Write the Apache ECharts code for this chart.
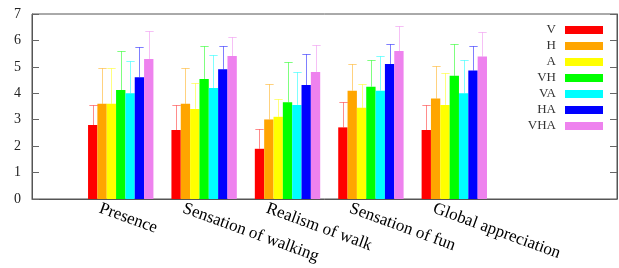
<!DOCTYPE html>
<html>
<head>
<meta charset="utf-8">
<script src="https://cdn.jsdelivr.net/npm/echarts@6/dist/echarts.min.js"></script>
<style>
    html, body { margin: 0; padding: 0; background: #fff; }
    #chart { width: 619px; height: 268px; }
</style>
</head>
<body>
<div id="chart"></div>
<script>
var categories = ["Presence", "Sensation of walking", "Realism of walk", "Sensation of fun", "Global appreciation"];
var seriesNames = ["V", "H", "A", "VH", "VA", "HA", "VHA"];
var yTicks = [0, 1, 2, 3, 4, 5, 6, 7];

// mean scores per condition
var meanV = [2.80, 2.61, 1.90, 2.71, 2.61];
var meanH = [3.60, 3.60, 3.01, 4.10, 3.80];
var meanA = [3.60, 3.41, 3.11, 3.45, 3.56];
var meanVH = [4.12, 4.54, 3.66, 4.25, 4.66];
var meanVA = [4.00, 4.20, 3.56, 4.10, 4.00];
var meanHA = [4.61, 4.91, 4.31, 5.11, 4.86];
var meanVHA = [5.30, 5.41, 4.81, 5.60, 5.39];

// error bar sizes (upper part visible above the bars)
var errV = [0.77, 0.96, 0.74, 0.95, 0.96];
var errH = [1.35, 1.35, 1.33, 1.00, 1.22];
var errA = [1.35, 0.97, 0.69, 0.91, 1.20];
var errVH = [1.49, 1.24, 1.53, 1.00, 1.20];
var errVA = [1.24, 1.24, 1.25, 1.30, 1.25];
var errHA = [1.16, 0.88, 1.17, 0.75, 0.94];
var errVHA = [1.06, 0.71, 1.03, 0.95, 0.94];

var means = [meanV, meanH, meanA, meanVH, meanVA, meanHA, meanVHA];
var errs = [errV, errH, errA, errVH, errVA, errHA, errVHA];
var colors = ["#ff0000", "#ffa500", "#ffff00", "#00ff00", "#00ffff", "#0000ff", "#ee82ee"];
var errColors = ["rgba(255,0,0,0.45)", "rgba(255,165,0,0.5)", "rgba(255,255,0,0.5)", "rgba(0,255,0,0.5)",
    "rgba(0,255,255,0.5)", "rgba(0,0,255,0.5)", "rgba(238,130,238,0.5)"];

var barW = 9.34;
var serif = "Liberation Serif";
var xMin = -1.064;
var xMax = 5.951;
// labels start a bit left of each group centre
var labelShift = 0.25;

var series = [];
var errData = [];
var labelPos = [];
var i, j;
for (j = 0; j < categories.length; j++) {
    labelPos.push(j - labelShift);
}
for (i = 0; i < seriesNames.length; i++) {
    var d = [];
    for (j = 0; j < categories.length; j++) {
        d.push([j, means[i][j]]);
        errData.push([j, i, means[i][j], errs[i][j]]);
    }
    series.push({
        name: seriesNames[i],
        type: "bar",
        barWidth: barW,
        barGap: "0%",
        itemStyle: { color: colors[i] },
        data: d,
        z: 2
    });
}

series.push({
    type: "custom",
    name: "err",
    z: 3,
    encode: { x: 0, y: 2 },
    renderItem: function (params, api) {
        var cat = api.value(0);
        var s = api.value(1);
        var m = api.value(2);
        var e = api.value(3);
        var base = api.coord([cat, m]);
        var top = api.coord([cat, m + e]);
        var x = Math.round(base[0] + (s - 3) * barW) + 0.5;
        var y0 = base[1];
        var y1 = Math.round(top[1]) + 0.5;
        var half = barW / 2 - 0.5;
        var style = { stroke: errColors[s], lineWidth: 1 };
        return {
            type: "group",
            children: [
                { type: "line", shape: { x1: x, y1: y0, x2: x, y2: y1 }, style: style },
                { type: "line", shape: { x1: x - half, y1: y1, x2: x + half, y2: y1 }, style: style }
            ]
        };
    },
    data: errData
});

var chart = echarts.init(document.getElementById("chart"));
chart.setOption({
    animation: false,
    backgroundColor: "#fff",
    grid: {
        left: 32, right: 2, top: 14, height: 185,
        show: true, borderColor: "#555", borderWidth: 1
    },
    legend: {
        data: seriesNames,
        orient: "vertical",
        align: "right",
        right: 16,
        top: 22,
        padding: 0,
        itemGap: 0,
        itemWidth: 38,
        itemHeight: 8,
        icon: "rect",
        textStyle: { fontFamily: serif, fontSize: 13, color: "#333", lineHeight: 16, padding: [0, 4, 0, 0] }
    },
    xAxis: {
        type: "value",
        min: xMin,
        max: xMax,
        axisLine: { show: true, onZero: false, lineStyle: { color: "#555" } },
        axisTick: { show: false },
        splitLine: { show: false },
        axisLabel: {
            customValues: labelPos,
            formatter: function (v) { return categories[Math.round(v + labelShift)]; },
            rotate: -20,
            margin: 9,
            fontFamily: serif,
            fontSize: 17,
            color: "#000"
        }
    },
    yAxis: [{
        type: "value",
        min: yTicks[0],
        max: yTicks[yTicks.length - 1],
        interval: 1,
        axisLine: { show: true, onZero: false, lineStyle: { color: "#555" } },
        axisTick: { show: true, inside: true, length: 7, lineStyle: { color: "#666", width: 1 } },
        axisLabel: { margin: 11, fontFamily: serif, fontSize: 14, color: "#222" },
        splitLine: { show: false }
    }, {
        // mirrored ticks along the right border
        type: "value",
        position: "right",
        min: yTicks[0],
        max: yTicks[yTicks.length - 1],
        interval: 1,
        axisLine: { show: true, onZero: false, lineStyle: { color: "#555" } },
        axisTick: { show: true, inside: true, length: 7, lineStyle: { color: "#666", width: 1 } },
        axisLabel: { show: false },
        splitLine: { show: false }
    }],
    series: series
});
</script>
</body>
</html>
